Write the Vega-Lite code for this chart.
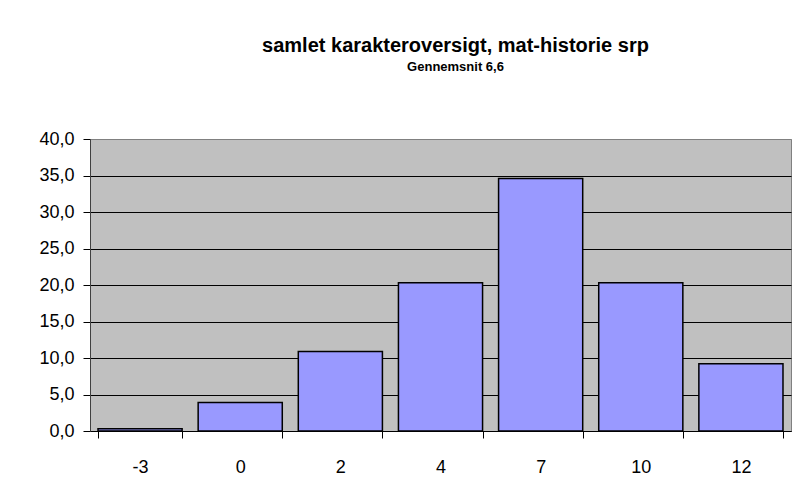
{
  "$schema": "https://vega.github.io/schema/vega-lite/v6.json",
  "autosize": "none",
  "width": 701,
  "height": 292,
  "padding": {"left": 90, "top": 139, "right": 12, "bottom": 55},
  "background": "white",
  "config": {
    "locale": {"number": {"decimal": ",", "thousands": ".", "grouping": [3], "currency": ["", " kr"]}},
    "font": "Liberation Sans",
    "view": {"fill": "#c0c0c0", "stroke": "#808080", "strokeWidth": 1}
  },
  "title": {
    "text": "samlet karakteroversigt, mat-historie srp",
    "subtitle": "Gennemsnit 6,6",
    "anchor": "middle",
    "frame": "group",
    "dx": 15,
    "offset": 56,
    "font": "Liberation Sans",
    "fontSize": 20,
    "fontWeight": "bold",
    "color": "black",
    "subtitleFont": "Liberation Sans",
    "subtitleFontSize": 13,
    "subtitleFontWeight": "bold",
    "subtitleColor": "black",
    "subtitlePadding": 5
  },
  "data": {
    "values": [
      {"karakter": "-3", "procent": 0.3},
      {"karakter": "0", "procent": 3.9},
      {"karakter": "2", "procent": 10.9},
      {"karakter": "4", "procent": 20.3},
      {"karakter": "7", "procent": 34.6},
      {"karakter": "10", "procent": 20.3},
      {"karakter": "12", "procent": 9.2}
    ]
  },
  "mark": {"type": "bar", "fill": "#9999ff", "stroke": "black", "strokeWidth": 1.5},
  "encoding": {
    "x": {
      "field": "karakter",
      "type": "nominal",
      "sort": null,
      "scale": {"paddingInner": 0.16, "paddingOuter": 0.08},
      "axis": {
        "title": null,
        "labelAngle": 0,
        "labelFontSize": 18,
        "labelColor": "black",
        "labelPadding": 20,
        "tickBand": "extent",
        "tickSize": 7,
        "tickColor": "black",
        "domainColor": "black",
        "grid": false
      }
    },
    "y": {
      "field": "procent",
      "type": "quantitative",
      "scale": {"domain": [0, 40], "nice": false},
      "axis": {
        "title": null,
        "values": [0, 5, 10, 15, 20, 25, 30, 35, 40],
        "format": ".1f",
        "labelFontSize": 18,
        "labelColor": "black",
        "labelPadding": 9,
        "tickSize": 7,
        "tickColor": "black",
        "domainColor": "#404040",
        "grid": true,
        "gridColor": {"condition": {"test": "datum.value === 40", "value": "#808080"}, "value": "black"},
        "gridOpacity": 1
      }
    }
  }
}
